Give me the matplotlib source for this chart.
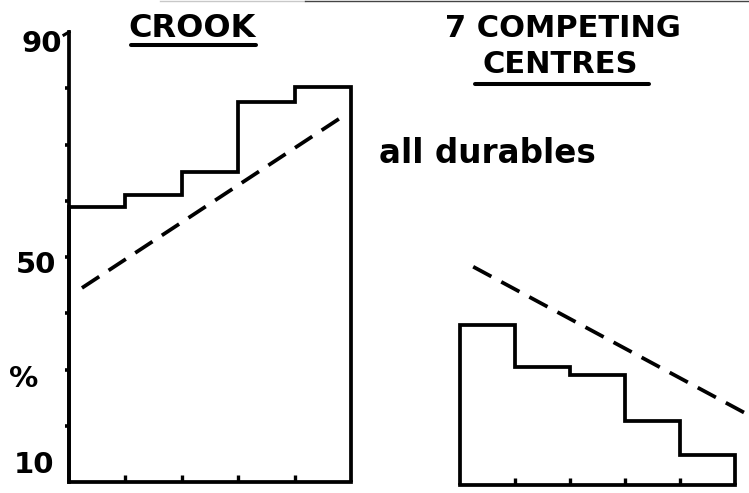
import matplotlib
matplotlib.use("Agg")
import matplotlib.pyplot as plt
from matplotlib.lines import Line2D

W, H = 749, 493

# bins along the x axis (5 equal classes) and the y range in %
EDGES = [0, 1, 2, 3, 4, 5]
Y_MIN, Y_MAX = 10, 90

# CROOK: observed share per class (solid steps) and fitted trend (dashed)
crook_steps = [58.9, 61.1, 65.1, 77.6, 80.2]
crook_trend_x = [0.23, 4.93]
crook_trend_y = [44.5, 75.5]

# 7 competing centres
comp_steps = [38.4, 31.0, 29.6, 21.4, 15.3]
comp_trend_x = [0.24, 5.18]
comp_trend_y = [48.8, 22.8]

y_ticks = [20, 30, 40, 50, 60, 70, 80]
x_ticks = [1, 2, 3, 4]
y_labels = ["90", "50", "10"]

plt.rcParams["font.family"] = ["DejaVu Sans"]
plt.rcParams["font.weight"] = "bold"
LW = 2.7


def px(x, y):
    # pixel position (from top-left) -> figure fraction
    return x / W, 1 - y / H


fig = plt.figure(figsize=(W / 100, H / 100), dpi=100)

ax1 = fig.add_axes([69 / W, (H - 482) / H, 282 / W, 450 / H])
ax2 = fig.add_axes([460 / W, (H - 485) / H, 275 / W, 450 / H])

for ax, steps, tx, ty in [(ax1, crook_steps, crook_trend_x, crook_trend_y),
                          (ax2, comp_steps, comp_trend_x, comp_trend_y)]:
    ax.set_xlim(EDGES[0], EDGES[-1])
    ax.set_ylim(Y_MIN, Y_MAX)
    ax.stairs(steps, EDGES, baseline=Y_MIN, color="black", lw=LW,
              clip_on=False)
    ax.plot(tx, ty, color="black", lw=LW, linestyle=(0, (5.5, 3)),
            clip_on=False, solid_capstyle="butt")
    for s in ["top", "right", "left"]:
        ax.spines[s].set_visible(False)
    ax.spines["bottom"].set_linewidth(LW)
    ax.set_xticks(x_ticks)
    ax.tick_params(axis="x", direction="in", length=5, width=2.4,
                   labelbottom=False)
    ax.patch.set_alpha(0)

ax1.spines["left"].set_visible(True)
ax1.spines["left"].set_linewidth(LW)
ax1.set_yticks(y_ticks)
ax1.tick_params(axis="y", direction="out", length=3, width=2.6,
                labelleft=False)
ax2.set_yticks([])

# small hook at the top of the y axis
(a, b), (c, d) = px(64, 35), px(69, 32)
fig.add_artist(Line2D([a, c], [b, d], color="black", lw=2.2))

# y labels, hand placed as in the drawing
for lab, (x, y) in zip(y_labels, [(62, 52), (56, 273), (54, 473)]):
    fig.text(*px(x, y), lab, ha="right", va="baseline", fontsize=21)
fig.text(*px(24, 387), "%", ha="center", va="baseline", fontsize=21)

# titles
fig.text(*px(192, 37), "CROOK", ha="center", va="baseline", fontsize=23)
fig.text(*px(563, 37), "7 COMPETING", ha="center", va="baseline", fontsize=22)
fig.text(*px(560, 73), "CENTRES", ha="center", va="baseline", fontsize=22)
fig.text(*px(487, 163), "all durables", ha="center", va="baseline",
         fontsize=23.5)

# underlines
for x0, x1, y in [(131, 256, 44.5), (475, 649, 83.5)]:
    (a, b), (c, d) = px(x0, y), px(x1, y)
    fig.add_artist(Line2D([a, c], [b, d], color="black", lw=2.9,
                          solid_capstyle="round"))

# scan edge at the top
for x0, x1, col in [(160, 305, "#c8c8c8"), (305, 749, "#444444")]:
    (a, b), (c, d) = px(x0, 0.6), px(x1, 0.6)
    fig.add_artist(Line2D([a, c], [b, d], color=col, lw=1.0))

fig.savefig("out.png", dpi=100)
